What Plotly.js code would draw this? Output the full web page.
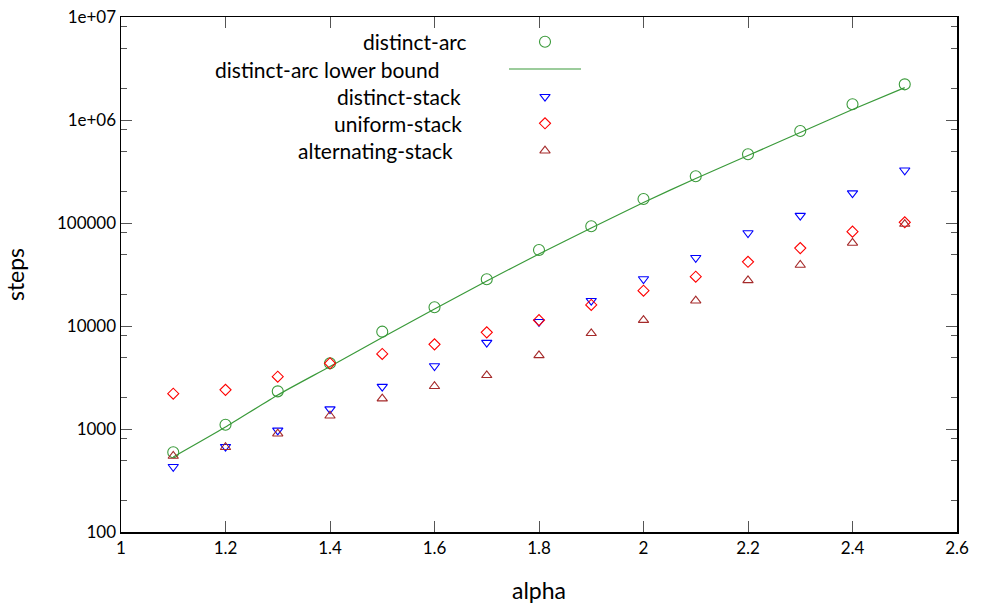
<!DOCTYPE html>
<html>
<head>
<meta charset="utf-8">
<script src="https://cdn.plot.ly/plotly-3.0.1.min.js"></script>
<style>html,body{margin:0;padding:0;background:#fff;}#chart{width:983px;height:607px;}</style>
</head>
<body>
<div id="chart"></div>
<script>
// ---- data ----
const alpha = [1.1, 1.2, 1.3, 1.4, 1.5, 1.6, 1.7, 1.8, 1.9, 2.0, 2.1, 2.2, 2.3, 2.4, 2.5];
const distinctArc = [594, 1100, 2320, 4340, 8810, 15200, 28400, 54700, 92900, 171000, 284000, 465000, 782000, 1420000, 2220000];
const lowerBound = [535, 1045, 2140, 4045, 7730, 14620, 27350, 50000, 89400, 158200, 270400, 452000, 756000, 1265000, 2060000];
const distinctStack = [430, 673, 970, 1560, 2580, 4090, 6890, 11000, 17600, 28600, 46000, 80000, 118000, 195000, 325000];
const uniformStack = [2200, 2400, 3220, 4350, 5350, 6640, 8680, 11400, 16000, 22000, 30100, 42000, 57100, 82400, 101600];
const alternatingStack = [547, 665, 900, 1345, 1970, 2600, 3320, 5190, 8490, 11400, 17600, 27700, 39100, 64000, 97700];
const seriesNames = ["distinct-arc", "distinct-arc lower bound", "distinct-stack", "uniform-stack", "alternating-stack"];
const yTickVals = [100, 1000, 10000, 100000, 1000000, 10000000];
const yTickText = ["100", "1000", "10000", "100000", "1e+06", "1e+07"];
const yMinorVals = [200, 500, 800, 2000, 5000, 8000, 20000, 50000, 80000, 200000, 500000, 800000, 2000000, 5000000, 8000000];
const xTickVals = [1, 1.2, 1.4, 1.6, 1.8, 2, 2.2, 2.4, 2.6];
const xTickText = ["1", "1.2", "1.4", "1.6", "1.8", "2", "2.2", "2.4", "2.6"];

// ---- styles ----
const GREEN = "#3a9a3a", BLUE = "#0000ff", RED = "#ff0000", BROWN = "#a52a2a";
const FONT = "Lato, 'Open Sans', sans-serif";

const traces = [
  {x: alpha, y: lowerBound, mode: "lines", name: seriesNames[1],
   line: {color: GREEN, width: 1.2, shape: "spline", smoothing: 0.6}},
  {x: alpha, y: distinctArc, mode: "markers", name: seriesNames[0],
   marker: {symbol: "circle-open", size: 11, color: GREEN, line: {width: 1.1, color: GREEN}}},
  {x: alpha, y: distinctStack, mode: "markers", name: seriesNames[2],
   marker: {symbol: "triangle-down-open", size: 9, color: BLUE, line: {width: 1.1, color: BLUE}}},
  {x: alpha, y: uniformStack, mode: "markers", name: seriesNames[3],
   marker: {symbol: "diamond-open", size: 8.5, color: RED, line: {width: 1.1, color: RED}}},
  {x: alpha, y: alternatingStack, mode: "markers", name: seriesNames[4],
   marker: {symbol: "triangle-up-open", size: 9, color: BROWN, line: {width: 1.1, color: BROWN}}}
];

// legend key (gnuplot style: right-aligned text, sample to the right), drawn on a pixel-unit overlay axis
const keyRows = [41.7, 69, 96.7, 123.3, 150.7];
const keyTextRight = [469, 442, 463, 464, 455];
const keySampleX = 545;
traces.push({x: [keySampleX], y: [keyRows[0]], xaxis: "x2", yaxis: "y2", mode: "markers", hoverinfo: "skip",
  marker: traces[1].marker});
traces.push({x: [509, 581], y: [keyRows[1], keyRows[1]], xaxis: "x2", yaxis: "y2", mode: "lines", hoverinfo: "skip",
  line: {color: GREEN, width: 1.2}});
traces.push({x: [keySampleX], y: [keyRows[2]], xaxis: "x2", yaxis: "y2", mode: "markers", hoverinfo: "skip",
  marker: traces[2].marker});
traces.push({x: [keySampleX], y: [keyRows[3]], xaxis: "x2", yaxis: "y2", mode: "markers", hoverinfo: "skip",
  marker: traces[3].marker});
traces.push({x: [keySampleX], y: [keyRows[4]], xaxis: "x2", yaxis: "y2", mode: "markers", hoverinfo: "skip",
  marker: traces[4].marker});

const annotations = seriesNames.map((n, i) => ({
  text: n, xref: "x2", yref: "y2", x: keyTextRight[i], y: keyRows[i],
  xanchor: "right", yanchor: "middle", showarrow: false,
  font: {family: FONT, size: 21, color: "#000"}
}));

const layout = {
  width: 983, height: 607,
  margin: {l: 121, r: 26, t: 17, b: 75, pad: 0},
  paper_bgcolor: "#fff", plot_bgcolor: "#fff",
  showlegend: false,
  font: {family: FONT, size: 16, color: "#000"},
  xaxis: {
    range: [1, 2.6], tickmode: "array", tickvals: xTickVals, ticktext: xTickText,
    ticks: "inside", ticklen: 11, tickwidth: 1, tickcolor: "#555",
    showline: true, linecolor: "#000", linewidth: 1.5, mirror: "ticks",
    showgrid: false, zeroline: false,
    tickfont: {family: FONT, size: 17},
    title: {text: "alpha", font: {family: FONT, size: 23}, standoff: 26}
  },
  yaxis: {
    type: "log", range: [2, 7], tickmode: "array", tickvals: yTickVals, ticktext: yTickText,
    ticks: "inside", ticklen: 11, tickwidth: 1, tickcolor: "#555",
    showline: true, linecolor: "#000", linewidth: 1.5, mirror: "ticks",
    showgrid: false, zeroline: false,
    tickfont: {family: FONT, size: 17},
    minor: {tickmode: "array", tickvals: yMinorVals, ticks: "inside", ticklen: 6, tickcolor: "#555", showgrid: false},
    title: {text: "steps", font: {family: FONT, size: 23}, standoff: 26}
  },
  xaxis2: {overlaying: "x", range: [121, 957], visible: false, fixedrange: true},
  yaxis2: {overlaying: "y", range: [532, 17], visible: false, fixedrange: true},
  annotations: annotations
};

Plotly.newPlot("chart", traces, layout, {displayModeBar: false, staticPlot: true});
</script>
</body>
</html>
